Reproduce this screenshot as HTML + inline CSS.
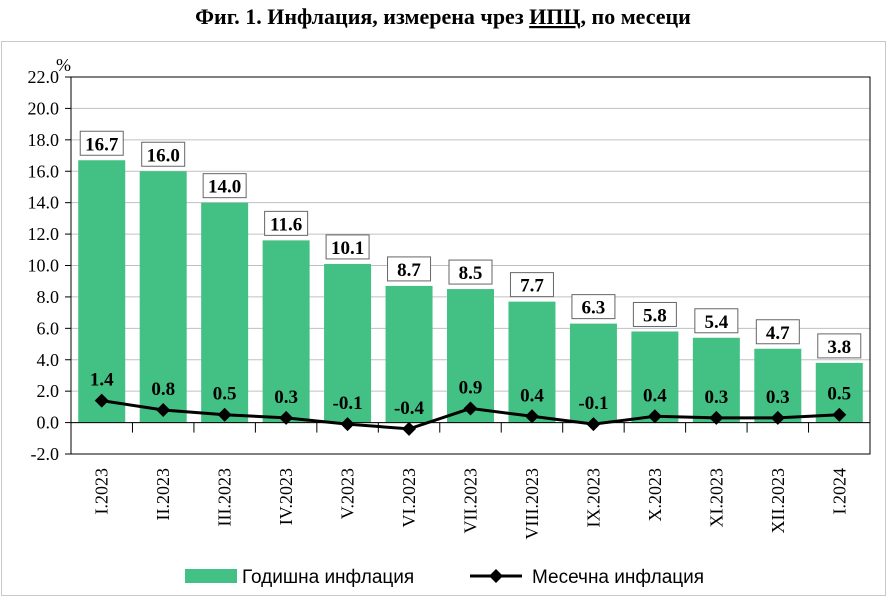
<!DOCTYPE html>
<html><head><meta charset="utf-8"><style>
body{margin:0;background:#fff}
svg{display:block;font-family:"Liberation Serif","DejaVu Serif",serif}
</style></head><body>
<svg id="c" width="887" height="597">
<text x="443" y="24" text-anchor="middle" font-size="22" font-weight="bold">Фиг. 1. Инфлация, измерена чрез <tspan text-decoration="underline">ИПЦ</tspan>, по месеци</text>
<rect x="1.5" y="41.5" width="884" height="554" fill="none" stroke="#c8c8c8"/>
<g id="g"></g>
</svg>
<script>
const categories=["I.2023","II.2023","III.2023","IV.2023","V.2023","VI.2023","VII.2023","VIII.2023","IX.2023","X.2023","XI.2023","XII.2023","I.2024"];
const annual=[16.7,16.0,14.0,11.6,10.1,8.7,8.5,7.7,6.3,5.8,5.4,4.7,3.8];
const monthly=[1.4,0.8,0.5,0.3,-0.1,-0.4,0.9,0.4,-0.1,0.4,0.3,0.3,0.5];
const yTicks=[22,20,18,16,14,12,10,8,6,4,2,0,-2];
const L=71,R=870,T=77,B=454,ymin=-2,ymax=22;
const y=v=>T+(ymax-v)/(ymax-ymin)*(B-T);
const bw=(R-L)/categories.length;
const xc=i=>L+bw*(i+0.5);
const g=document.getElementById('g');
const ns="http://www.w3.org/2000/svg";
function mk(t,a,txt){const e=document.createElementNS(ns,t);for(const k in a)e.setAttribute(k,a[k]);if(txt!=null)e.textContent=txt;g.appendChild(e);return e;}
yTicks.forEach(v=>{
 if(v!==22&&v!==-2){const l=mk('line',{x1:L,x2:R,y1:y(v),y2:y(v),stroke:'#c0c0c0'});}
 const tk=mk('line',{x1:L-6,x2:L,y1:y(v),y2:y(v),stroke:'#000'});
 const t=mk('text',{x:L-12,y:y(v)+6,'text-anchor':'end','font-size':18},v.toFixed(1));
 
});
const pl=mk('rect',{x:L,y:T,width:R-L,height:B-T,fill:'none',stroke:'#000'});

const pc=mk('text',{x:L-15,y:T-6,'font-size':18},'%');

annual.forEach((v,i)=>{
 const r=mk('rect',{x:xc(i)-23.5,y:y(v),width:47,height:y(0)-y(v),fill:'#43c083'});
 
 const bx=mk('rect',{x:xc(i)-21.5,y:y(v)-29,width:43,height:24,fill:'#fff',stroke:'#666'});
 
 const t=mk('text',{x:xc(i),y:y(v)-10,'text-anchor':'middle','font-size':19,'font-weight':'bold'},v.toFixed(1));
 
});
const ax=mk('line',{x1:L,x2:R,y1:y(0),y2:y(0),stroke:'#000'});

categories.forEach((c,i)=>{
 if(i>0){const tk=mk('line',{x1:L+bw*i,x2:L+bw*i,y1:y(0),y2:y(0)+10,stroke:'#000'});}
 const t=mk('text',{x:0,y:0,'text-anchor':'end','font-size':18,transform:`translate(${xc(i)+6},468) rotate(-90)`},c);
 
});
const ln=mk('polyline',{points:monthly.map((v,i)=>xc(i)+','+y(v)).join(' '),fill:'none',stroke:'#000','stroke-width':3});

monthly.forEach((v,i)=>{
 const X=xc(i),Y=y(v);
 const d=mk('polygon',{points:`${X},${Y-7} ${X+7},${Y} ${X},${Y+7} ${X-7},${Y}`,fill:'#000'});
 
 const t=mk('text',{x:X,y:Y-15,'text-anchor':'middle','font-size':19,'font-weight':'bold'},v.toFixed(1));
 
});
const lr=mk('rect',{x:185,y:569,width:52,height:14,fill:'#43c083'});

const lt=mk('text',{x:242,y:583,'font-size':19,'font-family':'Liberation Sans, sans-serif'},'Годишна инфлация');

const ll=mk('line',{x1:470,x2:522,y1:576,y2:576,stroke:'#000','stroke-width':3});

const ld=mk('polygon',{points:'496,569 503,576 496,583 489,576',fill:'#000'});

const lt2=mk('text',{x:532,y:583,'font-size':19,'font-family':'Liberation Sans, sans-serif'},'Месечна инфлация');

</script>
</body></html>
